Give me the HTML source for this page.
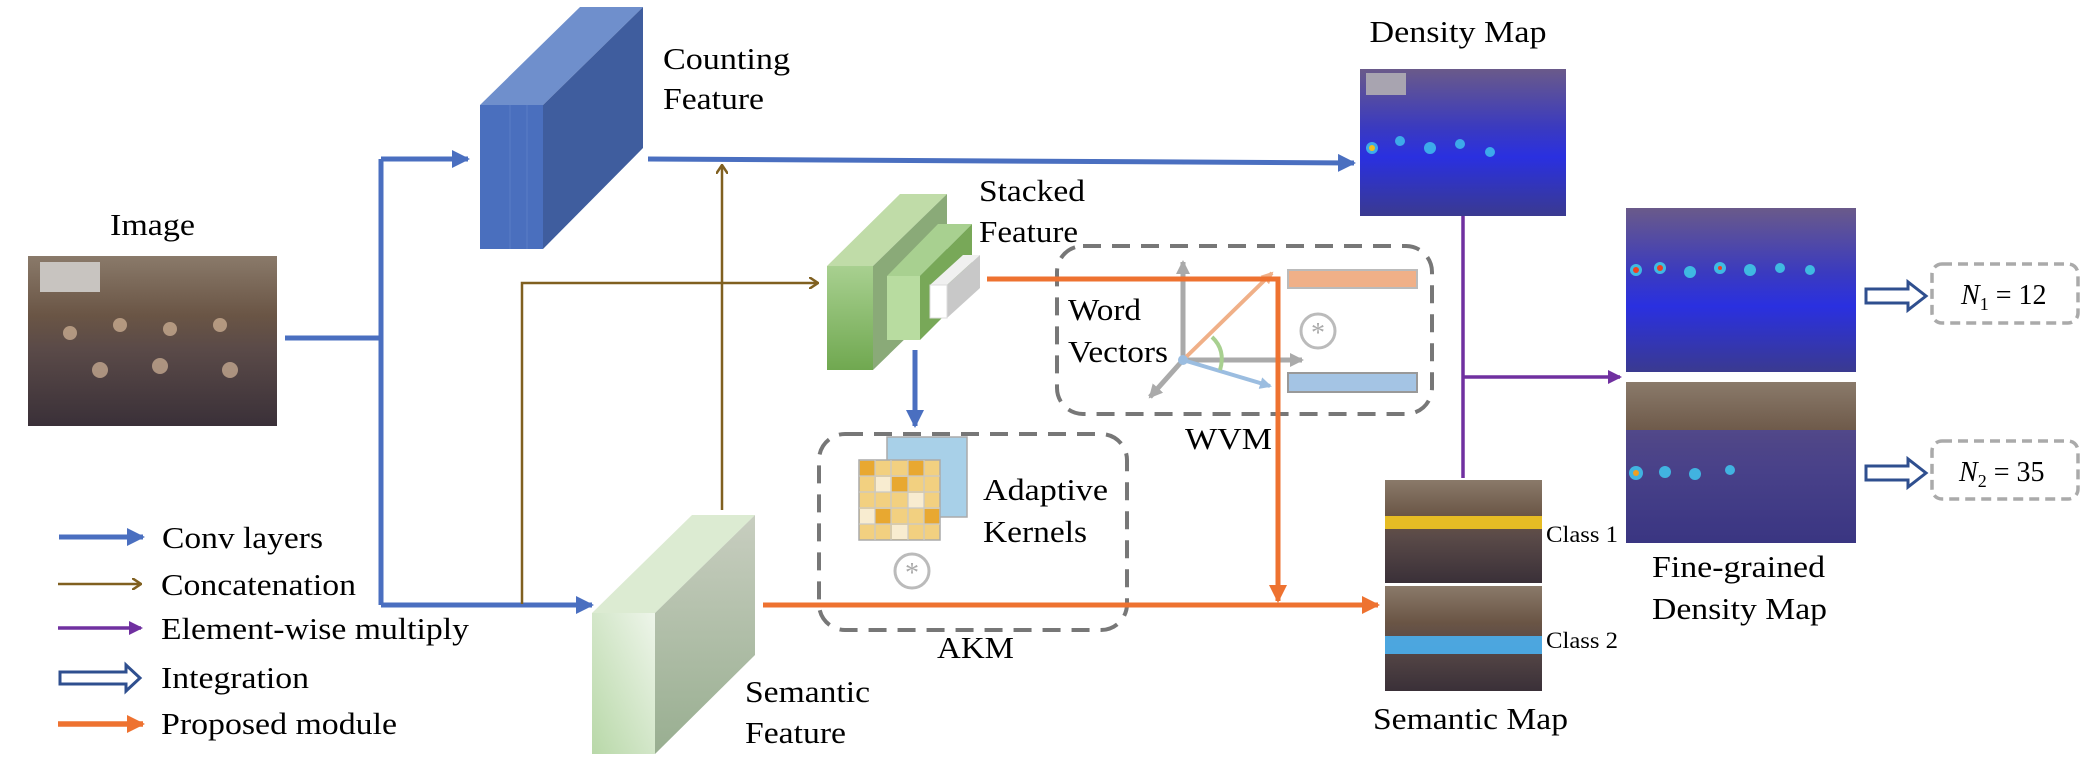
<!DOCTYPE html>
<html><head><meta charset="utf-8"><style>html,body{margin:0;padding:0;background:#fff;overflow:hidden}svg{display:block}text{font-family:"Liberation Serif","Times New Roman",serif;fill:#000}</style></head>
<body>
<svg width="2090" height="772" viewBox="0 0 2090 772" xmlns="http://www.w3.org/2000/svg">
<defs>
<marker id="ab" markerWidth="18" markerHeight="18" refX="16" refY="9" orient="auto" markerUnits="userSpaceOnUse"><path d="M0,0 L18,9 L0,18 z" fill="#4a6fc0"/></marker>
<marker id="ao" markerWidth="18" markerHeight="18" refX="16" refY="9" orient="auto" markerUnits="userSpaceOnUse"><path d="M0,0 L18,9 L0,18 z" fill="#ee7230"/></marker>
<marker id="ap" markerWidth="14" markerHeight="14" refX="12" refY="7" orient="auto" markerUnits="userSpaceOnUse"><path d="M0,0 L14,7 L0,14 z" fill="#7030a0"/></marker>
<marker id="an" markerWidth="10" markerHeight="12" refX="9" refY="6" orient="auto" markerUnits="userSpaceOnUse"><path d="M0,0 L9,6 L0,12" fill="none" stroke="#806020" stroke-width="2.5"/></marker>
<marker id="ag" markerWidth="14" markerHeight="14" refX="12" refY="7" orient="auto" markerUnits="userSpaceOnUse"><path d="M0,0 L14,7 L0,14 z" fill="#aaa"/></marker>
<marker id="apc" markerWidth="12" markerHeight="12" refX="10" refY="6" orient="auto" markerUnits="userSpaceOnUse"><path d="M0,0 L12,6 L0,12 z" fill="#f0b088"/></marker>
<marker id="abl" markerWidth="12" markerHeight="12" refX="10" refY="6" orient="auto" markerUnits="userSpaceOnUse"><path d="M0,0 L12,6 L0,12 z" fill="#9bbde0"/></marker>
<linearGradient id="photo" x1="0" y1="0" x2="0" y2="1"><stop offset="0" stop-color="#8a7a6a"/><stop offset="0.35" stop-color="#6a5545"/><stop offset="0.55" stop-color="#5a4a48"/><stop offset="1" stop-color="#3a3038"/></linearGradient>
<linearGradient id="dens" x1="0" y1="0" x2="0" y2="1"><stop offset="0" stop-color="#6a5a8a"/><stop offset="0.4" stop-color="#3a3ac0"/><stop offset="0.6" stop-color="#2a30e0"/><stop offset="1" stop-color="#3a3a90"/></linearGradient>
<linearGradient id="semg" x1="0" y1="1" x2="1" y2="0"><stop offset="0" stop-color="#b8d8a8"/><stop offset="1" stop-color="#eef5ea"/></linearGradient>
<linearGradient id="semside" x1="0" y1="0" x2="0" y2="1"><stop offset="0" stop-color="#c8cec0"/><stop offset="1" stop-color="#98ae90"/></linearGradient>
<linearGradient id="stk" x1="0" y1="0" x2="0" y2="1"><stop offset="0" stop-color="#a8d090"/><stop offset="1" stop-color="#70a850"/></linearGradient>
</defs>

<text x="110" y="235" font-size="31" textLength="85" lengthAdjust="spacingAndGlyphs">Image</text>
<rect x="28" y="256" width="249" height="170" fill="url(#photo)"/>
<rect x="40" y="262" width="60" height="30" fill="#c8c4c0"/>
<g fill="#e8c8a8" opacity="0.6"><circle cx="70" cy="333" r="7"/><circle cx="120" cy="325" r="7"/><circle cx="170" cy="329" r="7"/><circle cx="220" cy="325" r="7"/><circle cx="100" cy="370" r="8"/><circle cx="160" cy="366" r="8"/><circle cx="230" cy="370" r="8"/></g>

<g stroke="#4a6fc0" stroke-width="5" fill="none">
<path d="M285,338 H381"/>
<path d="M381,159 V605"/>
<path d="M381,159 H468" marker-end="url(#ab)"/>
<path d="M381,605 H592" marker-end="url(#ab)"/>
<path d="M648,159 L1354,163" marker-end="url(#ab)"/>
<path d="M915,350 V426" marker-end="url(#ab)"/>
</g>

<polygon points="480,105 580,7 643,7 543,105" fill="#6f8fcc"/>
<polygon points="543,105 643,7 643,148 543,249" fill="#3f5d9e"/>
<rect x="480" y="105" width="63" height="144" fill="#4a6fbe"/>
<line x1="510" y1="105" x2="510" y2="249" stroke="#5a7cc6" stroke-width="1"/>
<line x1="527" y1="105" x2="527" y2="249" stroke="#5a7cc6" stroke-width="1"/>
<text x="663" y="69" font-size="31" textLength="127" lengthAdjust="spacingAndGlyphs">Counting</text>
<text x="663" y="109" font-size="31" textLength="101" lengthAdjust="spacingAndGlyphs">Feature</text>

<g stroke="#806020" stroke-width="2.5" fill="none">
<path d="M522,604 V283 H818" marker-end="url(#an)"/>
<path d="M722,510 V165" marker-end="url(#an)"/>
</g>

<polygon points="827,266 900,194 947,194 873,266" fill="#c0dca8"/>
<polygon points="873,266 947,194 947,298 873,370" fill="#8aaa78"/>
<rect x="827" y="266" width="46" height="104" fill="url(#stk)"/>
<polygon points="887,276 938,224 972,224 920,276" fill="#a8d090"/>
<polygon points="920,276 972,224 972,288 920,340" fill="#78a858"/>
<rect x="887" y="276" width="33" height="64" fill="#b8dca0"/>
<polygon points="930,285 963,255 980,255 947,285" fill="#f0f0f0"/>
<polygon points="947,285 980,255 980,288 947,318" fill="#c8c8c8"/>
<rect x="930" y="285" width="17" height="33" fill="#fff" stroke="#ddd"/>
<text x="979" y="201" font-size="31" textLength="106" lengthAdjust="spacingAndGlyphs">Stacked</text>
<text x="979" y="242" font-size="31" textLength="99" lengthAdjust="spacingAndGlyphs">Feature</text>

<polygon points="592,613 692,515 755,515 655,613" fill="#dcebd2"/>
<polygon points="655,613 755,515 755,655 655,754" fill="url(#semside)"/>
<rect x="592" y="613" width="63" height="141" fill="url(#semg)"/>
<text x="745" y="702" font-size="31" textLength="125" lengthAdjust="spacingAndGlyphs">Semantic</text>
<text x="745" y="743" font-size="31" textLength="101" lengthAdjust="spacingAndGlyphs">Feature</text>

<rect x="819" y="434" width="308" height="196" rx="26" fill="none" stroke="#777" stroke-width="4" stroke-dasharray="18,11"/>
<g stroke="#aaa" stroke-width="1.5">
<rect x="887" y="437" width="80" height="80" fill="#a8d0e8"/>
<rect x="859" y="460" width="81" height="80" fill="#f2d080"/>
</g>
<g fill="#e8a830"><rect x="860" y="461" width="15" height="15"/><rect x="892" y="477" width="16" height="15"/><rect x="875" y="509" width="16" height="15"/><rect x="924" y="509" width="15" height="15"/><rect x="908" y="461" width="16" height="15"/></g>
<g fill="#f8ecd0"><rect x="876" y="477" width="15" height="15"/><rect x="908" y="493" width="16" height="15"/><rect x="860" y="509" width="15" height="15"/><rect x="892" y="525" width="16" height="14"/></g>
<g fill="none" stroke="#c8c8c8" stroke-width="1.2">
<path d="M875,460 V540 M891,460 V540 M908,460 V540 M924,460 V540 M859,476 H940 M859,492 H940 M859,508 H940 M859,524 H940"/>
</g>
<circle cx="912" cy="571" r="17" fill="#fff" stroke="#bbb" stroke-width="3"/>
<text x="912" y="582" font-size="28" text-anchor="middle" style="fill:#aaa">*</text>
<text x="983" y="500" font-size="31" textLength="125" lengthAdjust="spacingAndGlyphs">Adaptive</text>
<text x="983" y="542" font-size="31" textLength="104" lengthAdjust="spacingAndGlyphs">Kernels</text>
<text x="937" y="658" font-size="31" textLength="77" lengthAdjust="spacingAndGlyphs">AKM</text>

<rect x="1057" y="246" width="375" height="168" rx="26" fill="none" stroke="#777" stroke-width="4" stroke-dasharray="18,11"/>
<text x="1068" y="320" font-size="31" textLength="73" lengthAdjust="spacingAndGlyphs">Word</text>
<text x="1068" y="362" font-size="31" textLength="100" lengthAdjust="spacingAndGlyphs">Vectors</text>
<g stroke-width="5" fill="none">
<path d="M1183,357 V262" stroke="#aaa" marker-end="url(#ag)"/>
<path d="M1183,360 H1302" stroke="#aaa" marker-end="url(#ag)"/>
<path d="M1183,360 L1150,397" stroke="#aaa" marker-end="url(#ag)"/>
<path d="M1183,360 L1272,273" stroke="#f0b088" stroke-width="4" marker-end="url(#apc)"/>
<path d="M1183,360 L1270,386" stroke="#9bbde0" stroke-width="4" marker-end="url(#abl)"/>
<path d="M1212,337 Q1226,350 1220,370" stroke="#a8d090" stroke-width="4"/>
</g>
<circle cx="1183" cy="360" r="5" fill="#9bbde0"/>
<rect x="1288" y="270" width="129" height="18" fill="#f0b088" stroke="#bbb" stroke-width="2"/>
<rect x="1288" y="373" width="129" height="19" fill="#a4c4e4" stroke="#999" stroke-width="2"/>
<circle cx="1318" cy="331" r="17" fill="#fff" stroke="#bbb" stroke-width="3"/>
<text x="1318" y="342" font-size="28" text-anchor="middle" style="fill:#aaa">*</text>
<text x="1185" y="449" font-size="31" textLength="87" lengthAdjust="spacingAndGlyphs">WVM</text>

<g stroke="#ee7230" stroke-width="5" fill="none">
<path d="M987,279 H1278 V601" marker-end="url(#ao)"/>
<path d="M763,605 H1378" marker-end="url(#ao)"/>
</g>

<text x="1458" y="42" font-size="31" text-anchor="middle" textLength="177" lengthAdjust="spacingAndGlyphs">Density Map</text>
<rect x="1360" y="69" width="206" height="147" fill="url(#dens)"/>
<rect x="1366" y="73" width="40" height="22" fill="#a8a4b0"/>
<g fill="#40c8f0" opacity="0.8"><circle cx="1372" cy="148" r="6"/><circle cx="1400" cy="141" r="5"/><circle cx="1430" cy="148" r="6"/><circle cx="1460" cy="144" r="5"/><circle cx="1490" cy="152" r="5"/></g>
<circle cx="1372" cy="148" r="3" fill="#f0c020"/>

<g stroke="#7030a0" stroke-width="3.5" fill="none">
<path d="M1463,216 V478"/>
<path d="M1463,377 H1620" marker-end="url(#ap)"/>
</g>

<rect x="1626" y="208" width="230" height="164" fill="url(#dens)"/>
<g fill="#40d0e8" opacity="0.85"><circle cx="1636" cy="270" r="6"/><circle cx="1660" cy="268" r="6"/><circle cx="1690" cy="272" r="6"/><circle cx="1720" cy="268" r="6"/><circle cx="1750" cy="270" r="6"/><circle cx="1780" cy="268" r="5"/><circle cx="1810" cy="270" r="5"/></g>
<g fill="#f04020"><circle cx="1636" cy="270" r="3"/><circle cx="1660" cy="268" r="3"/><circle cx="1720" cy="268" r="2"/></g>
<rect x="1626" y="382" width="230" height="161" fill="url(#photo)"/>
<rect x="1626" y="430" width="230" height="113" fill="#3a3ac0" opacity="0.55"/>
<g fill="#40c8f0" opacity="0.85"><circle cx="1636" cy="473" r="7"/><circle cx="1665" cy="472" r="6"/><circle cx="1695" cy="474" r="6"/><circle cx="1730" cy="470" r="5"/></g>
<circle cx="1636" cy="473" r="3" fill="#f0a020"/>
<text x="1652" y="577" font-size="31" textLength="173" lengthAdjust="spacingAndGlyphs">Fine-grained</text>
<text x="1652" y="619" font-size="31" textLength="175" lengthAdjust="spacingAndGlyphs">Density Map</text>

<rect x="1385" y="480" width="157" height="103" fill="url(#photo)"/>
<rect x="1385" y="516" width="157" height="13" fill="#f4c820" opacity="0.9"/>
<rect x="1385" y="586" width="157" height="105" fill="url(#photo)"/>
<rect x="1385" y="636" width="157" height="18" fill="#4ab0f0" opacity="0.9"/>
<text x="1546" y="542" font-size="23" textLength="72" lengthAdjust="spacingAndGlyphs">Class 1</text>
<text x="1546" y="648" font-size="23" textLength="72" lengthAdjust="spacingAndGlyphs">Class 2</text>
<text x="1373" y="729" font-size="31" textLength="195" lengthAdjust="spacingAndGlyphs">Semantic Map</text>

<g fill="#fff" stroke="#2f4f8f" stroke-width="3">
<path d="M1866,289 H1908 V282 L1926,296 L1908,310 V303 H1866 Z"/>
<path d="M1866,466 H1908 V459 L1926,473 L1908,487 V480 H1866 Z"/>
</g>
<rect x="1932" y="264" width="146" height="59" rx="10" fill="none" stroke="#aaa" stroke-width="3.5" stroke-dasharray="10,6"/>
<rect x="1932" y="441" width="146" height="58" rx="10" fill="none" stroke="#aaa" stroke-width="3.5" stroke-dasharray="10,6"/>
<text x="1961" y="304" font-size="28"><tspan font-style="italic">N</tspan><tspan font-size="18" dy="6">1</tspan><tspan dy="-6"> = 12</tspan></text>
<text x="1959" y="481" font-size="28"><tspan font-style="italic">N</tspan><tspan font-size="18" dy="6">2</tspan><tspan dy="-6"> = 35</tspan></text>

<path d="M59,537 H143" stroke="#4a6fc0" stroke-width="5" marker-end="url(#ab)"/>
<path d="M58,584 H141" stroke="#806020" stroke-width="2.5" marker-end="url(#an)"/>
<path d="M58,628 H141" stroke="#7030a0" stroke-width="3.5" marker-end="url(#ap)"/>
<path d="M60,672 H126 V665 L140,678 L126,691 V684 H60 Z" fill="#fff" stroke="#2f4f8f" stroke-width="3"/>
<path d="M58,724 H143" stroke="#ee7230" stroke-width="5.5" marker-end="url(#ao)"/>
<text x="162" y="548" font-size="31" textLength="161" lengthAdjust="spacingAndGlyphs">Conv layers</text>
<text x="161" y="595" font-size="31" textLength="195" lengthAdjust="spacingAndGlyphs">Concatenation</text>
<text x="161" y="639" font-size="31" textLength="308" lengthAdjust="spacingAndGlyphs">Element-wise multiply</text>
<text x="161" y="688" font-size="31" textLength="148" lengthAdjust="spacingAndGlyphs">Integration</text>
<text x="161" y="734" font-size="31" textLength="236" lengthAdjust="spacingAndGlyphs">Proposed module</text>
</svg>
</body></html>
